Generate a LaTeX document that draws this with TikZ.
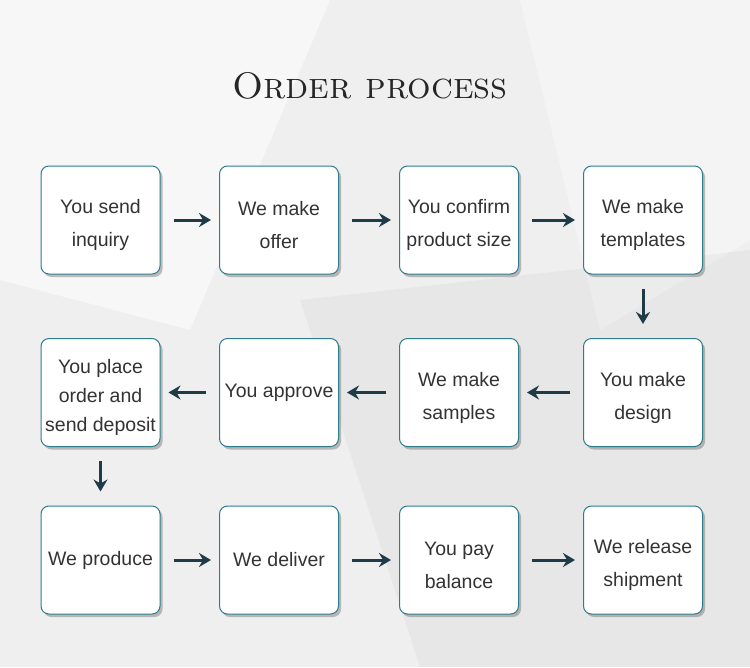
\documentclass[tikz,border=0pt]{standalone}
\usepackage{fontspec}
\setsansfont{Liberation Sans}
\usepackage{tikz}
\usetikzlibrary{arrows.meta, positioning, shadows}

\definecolor{boxline}{HTML}{2E7D8C}
\definecolor{arrowcol}{HTML}{1F3B47}
\definecolor{textcol}{HTML}{333333}
\definecolor{bgcol}{HTML}{EFEFEF}

\newcommand{\lift}{\rule{0pt}{25pt}}

\tikzset{
  stepbox/.style={draw=boxline, line width=1pt, fill=white, rounded corners=8pt,
    minimum width=119pt, minimum height=108pt, inner sep=0pt, align=center,
    text=textcol, font=\sffamily\fontsize{19.5}{33}\selectfont,
    drop shadow={shadow xshift=2.5pt, shadow yshift=-3pt, opacity=0.35, fill=black!70}},
  flow/.style={draw=arrowcol, line width=3pt, -{Stealth[length=12pt, width=14pt, inset=4pt]}},
}

\begin{document}
\begin{tikzpicture}[x=1pt, y=-1pt]
  \useasboundingbox (0,0) rectangle (750,667);

  % background
  \fill[bgcol] (0,0) rectangle (750,667);
  \fill[white, opacity=0.5] (0,0) -- (330,0) -- (190,330) -- (0,280) -- cycle;
  \fill[white, opacity=0.35] (520,0) -- (750,0) -- (750,240) -- (600,330) -- cycle;
  \fill[black, opacity=0.03] (300,300) -- (750,250) -- (750,667) -- (420,667) -- cycle;

  % title
  \node[text=black!85, font=\fontsize{37}{37}\selectfont\scshape] (title) at (370,86) {Order process};

  % first row
  \node[stepbox] (send)      at (100.5,220) {\lift You send\\inquiry};
  \node[stepbox] (offer)     at (279,220)   {\lift We make\\offer};
  \node[stepbox] (confirm)   at (459,220)   {\lift You confirm\\product size};
  \node[stepbox] (templates) at (643,220)   {\lift We make\\templates};

  % second row
  \node[stepbox] (design)    at (643,392.5) {\lift You make\\design};
  \node[stepbox] (samples)   at (459,392.5) {\lift We make\\samples};
  \node[stepbox] (approve)   at (279,392.5) {You approve};
  \node[stepbox, font=\sffamily\fontsize{19.5}{29}\selectfont] (deposit) at (100.5,392.5)
    {\lift You place\\order and\\send deposit};

  % third row
  \node[stepbox] (produce)   at (100.5,560) {We produce};
  \node[stepbox] (deliver)   at (279,560)   {We deliver};
  \node[stepbox] (pay)       at (459,560)   {\lift You pay\\balance};
  \node[stepbox] (release)   at (643,560)   {\lift We release\\shipment};

  % arrows
  \foreach \a/\b in {send/offer, offer/confirm, confirm/templates,
                     design/samples, samples/approve, approve/deposit,
                     produce/deliver, deliver/pay, pay/release}
    \draw[flow, shorten <=13pt, shorten >=8pt] (\a) -- (\b);
  \draw[flow, shorten <=14pt, shorten >=14pt] (templates) -- (design);
  \draw[flow, shorten <=14pt, shorten >=14pt] (deposit) -- (produce);
\end{tikzpicture}
\end{document}
